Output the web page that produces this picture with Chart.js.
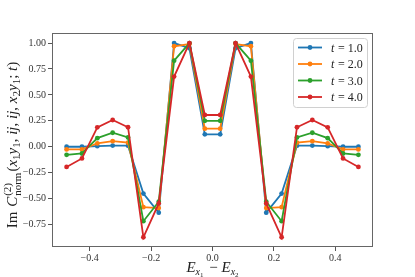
<!DOCTYPE html>
<html>
<head>
<meta charset="utf-8">
<script src="https://cdn.jsdelivr.net/npm/chart.js@4/dist/chart.umd.min.js"></script>
<style>
html,body{margin:0;padding:0;background:#fff;}
canvas{display:block;}
</style>
</head>
<body>
<canvas id="c" width="415" height="277"></canvas>
<script>
// ---- data ----
const xValues = [-0.475,-0.425,-0.375,-0.325,-0.275,-0.225,-0.175,-0.125,-0.075,-0.025,
                 0.025,0.075,0.125,0.175,0.225,0.275,0.325,0.375,0.425,0.475];
const seriesLabels = ["1.0","2.0","3.0","4.0"];
const t1 = [0.0,0.0,0.005,0.011,0.01,-0.452,-0.636,1.0,0.95,0.12,
            0.12,0.95,1.0,-0.636,-0.452,0.01,0.011,0.005,0.0,0.0];
const t2 = [-0.026,-0.026,0.032,0.054,0.039,-0.583,-0.592,0.969,0.99,0.174,
            0.174,0.99,0.969,-0.592,-0.583,0.039,0.054,0.032,-0.026,-0.026];
const t3 = [-0.078,-0.065,0.083,0.135,0.09,-0.718,-0.53,0.83,1.0,0.25,
            0.25,1.0,0.83,-0.53,-0.718,0.09,0.135,0.083,-0.065,-0.078];
const t4 = [-0.195,-0.113,0.187,0.258,0.188,-0.873,-0.547,0.677,1.0,0.306,
            0.306,1.0,0.677,-0.547,-0.873,0.188,0.258,0.187,-0.113,-0.195];
const xTicks = [-0.4,-0.2,0.0,0.2,0.4];
const yTicks = [-0.75,-0.5,-0.25,0.0,0.25,0.5,0.75,1.0];
const colors = ["#1f77b4","#ff7f0e","#2ca02c","#d62728"];

const allSeries = [t1,t2,t3,t4];
const datasets = allSeries.map((s,i)=>({
  label: seriesLabels[i],
  data: xValues.map((x,j)=>({x:x,y:s[j]})),
  borderColor: colors[i],
  backgroundColor: colors[i],
  pointBackgroundColor: colors[i],
  pointBorderColor: colors[i],
  pointRadius: 2.4,
  pointBorderWidth: 0,
  borderWidth: 1.8,
  tension: 0,
  fill: false,
  order: 4-i
}));

const SERIF = "'Liberation Serif','DejaVu Serif',serif";
function fmtMinus(s){ return s.replace('-', '\u2212'); }

function drawRich(ctx, segs, cx, cy){
  let total = 0;
  const widths = segs.map(sg=>{
    if (sg.stack){
      let w = 0;
      sg.stack.forEach(p=>{ ctx.font = p.font; w = Math.max(w, ctx.measureText(p.text).width); });
      return w + (sg.extra||0);
    }
    ctx.font = sg.font;
    return ctx.measureText(sg.text).width + (sg.extra||0);
  });
  widths.forEach(w=>total+=w);
  let x = cx - total/2;
  segs.forEach((sg,k)=>{
    if (sg.stack){
      sg.stack.forEach(p=>{ ctx.font=p.font; ctx.fillText(p.text, x, cy + p.dy); });
    } else {
      ctx.font = sg.font;
      ctx.fillText(sg.text, x, cy + (sg.dy||0));
    }
    x += widths[k];
  });
}

const fR14 = "14px " + SERIF, fI14 = "italic 14px " + SERIF;
const fR15 = "15px " + SERIF, fI15 = "italic 15px " + SERIF;
const fR10 = "10px " + SERIF, fI10 = "italic 10px " + SERIF, fR7 = "7px " + SERIF;
const fR11 = "11px " + SERIF;

const decor = {
  id: 'decor',
  afterDraw(chart){
    const ctx = chart.ctx;
    const a = chart.chartArea;
    ctx.save();
    ctx.strokeStyle = '#666';
    ctx.lineWidth = 1;
    ctx.strokeRect(Math.round(a.left)+0.5, Math.round(a.top)+0.5, Math.round(a.right-a.left)-1, Math.round(a.bottom-a.top)-1);
    ctx.fillStyle = '#222';
    ctx.textBaseline = 'alphabetic';
    // x title
    drawRich(ctx, [
      {text:'E', font:fI15},
      {text:'x', font:fI10, dy:3},
      {text:'1', font:fR7, dy:5, extra:2},
      {text:' \u2212 ', font:fR15},
      {text:'E', font:fI15},
      {text:'x', font:fI10, dy:3},
      {text:'2', font:fR7, dy:5}
    ], (a.left+a.right)/2, 272);
    // y title (rotated)
    ctx.save();
    ctx.translate(17, (a.top+a.bottom)/2 + 5);
    ctx.rotate(-Math.PI/2);
    drawRich(ctx, [
      {text:'Im ', font:fR15, extra:1},
      {text:'C', font:fI15, extra:1},
      {stack:[{text:'(2)', font:fR11, dy:-6},{text:'norm', font:fR11, dy:4}], extra:1},
      {text:'(', font:fR15},
      {text:'x', font:fI15},{text:'1', font:fR11, dy:3},
      {text:'y', font:fI15},{text:'1', font:fR11, dy:3},
      {text:', ', font:fR15},
      {text:'ij', font:fI15},
      {text:', ', font:fR15},
      {text:'ij', font:fI15},
      {text:', ', font:fR15},
      {text:'x', font:fI15},{text:'2', font:fR11, dy:3},
      {text:'y', font:fI15},{text:'1', font:fR11, dy:3},
      {text:'; ', font:fR15},
      {text:'t', font:fI15},
      {text:')', font:fR15}
    ], 0, 0);
    ctx.restore();
    // legend
    const lx = 293.5, ly = 38.5, lw = 74, lh = 69;
    ctx.beginPath();
    if (ctx.roundRect) ctx.roundRect(lx, ly, lw, lh, 3); else ctx.rect(lx,ly,lw,lh);
    ctx.fillStyle = 'rgba(255,255,255,0.85)';
    ctx.fill();
    ctx.strokeStyle = '#d0d0d0';
    ctx.lineWidth = 1;
    ctx.stroke();
    chart.data.datasets.forEach((ds,i)=>{
      const y = 47.5 + i*16.5;
      ctx.strokeStyle = ds.borderColor;
      ctx.lineWidth = 1.8;
      ctx.beginPath(); ctx.moveTo(298, y); ctx.lineTo(322, y); ctx.stroke();
      ctx.fillStyle = ds.borderColor;
      ctx.beginPath(); ctx.arc(310, y, 2.4, 0, Math.PI*2); ctx.fill();
      ctx.fillStyle = '#222';
      ctx.textBaseline = 'middle';
      ctx.font = "italic 12px " + SERIF;
      ctx.fillText('t', 331, y+1);
      ctx.font = "12px " + SERIF;
      ctx.fillText(' = ' + ds.label, 335, y+1);
    });
    ctx.restore();
  }
};

new Chart(document.getElementById('c'), {
  type: 'line',
  data: { datasets },
  options: {
    responsive: false,
    devicePixelRatio: 1,
    animation: false,
    layout: { padding: { left: 0, right: 42, top: 33, bottom: 0 } },
    plugins: { legend: { display: false }, tooltip: { enabled: false }, title: { display: false } },
    scales: {
      x: {
        type: 'linear',
        min: -0.5225, max: 0.5225,
        afterBuildTicks: (s)=>{ s.ticks = xTicks.map(v=>({value:v})); },
        afterFit: (s)=>{ s.height = 30; },
        grid: { display: true, drawOnChartArea: false, drawTicks: true, tickLength: 4, tickColor: '#555', tickWidth: 1 },
        border: { display: false },
        ticks: {
          padding: 1,
          color: '#333',
          font: { family: SERIF, size: 10 },
          maxRotation: 0,
          callback: (v)=> fmtMinus(Number(v).toFixed(1))
        }
      },
      y: {
        type: 'linear',
        min: -0.967, max: 1.097,
        afterBuildTicks: (s)=>{ s.ticks = yTicks.map(v=>({value:v})); },
        afterFit: (s)=>{ s.width = 52; },
        grid: { display: true, drawOnChartArea: false, drawTicks: true, tickLength: 4, tickColor: '#555', tickWidth: 1 },
        border: { display: false },
        ticks: {
          padding: 2,
          color: '#333',
          font: { family: SERIF, size: 10 },
          callback: (v)=> fmtMinus(Number(v).toFixed(2))
        }
      }
    }
  },
  plugins: [decor]
});
</script>
</body>
</html>
